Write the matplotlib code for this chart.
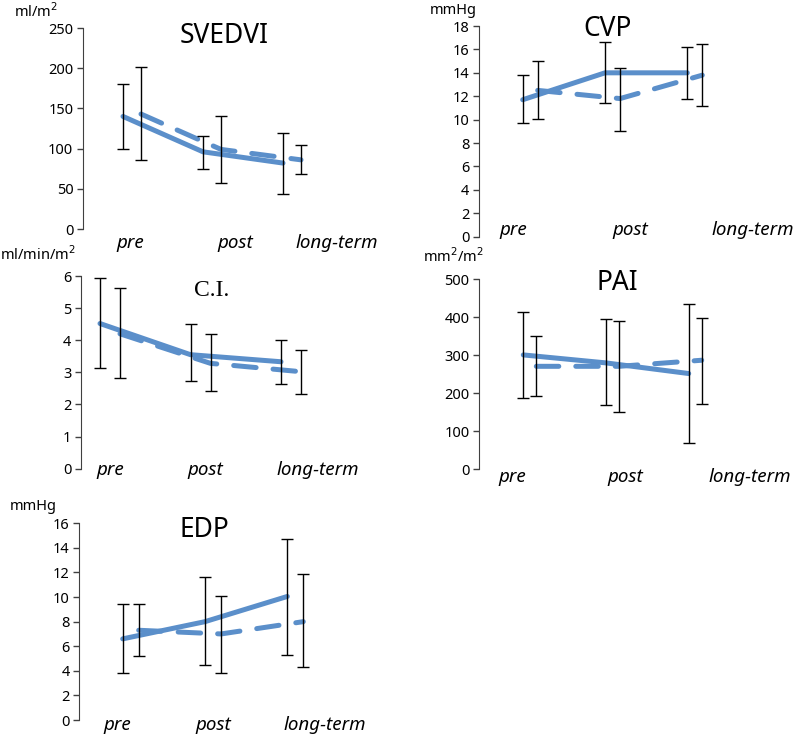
"""Five small line charts (pre / post / long-term) with SD error bars."""

import matplotlib

matplotlib.use("Agg")
import matplotlib.pyplot as plt
import numpy as np

W, H = 798, 740
BLUE = "#5b8fca"

plt.rcParams["font.family"] = ["Noto Sans", "DejaVu Sans"]

CATEGORIES = ["pre", "post", "long-term"]

# SVEDVI (ml/m2)
svedvi_a = [140, 96, 82]
svedvi_a_lo = [100, 75, 43]
svedvi_a_hi = [180, 116, 120]
svedvi_b = [143, 99, 86]
svedvi_b_lo = [86, 57, 68]
svedvi_b_hi = [201, 141, 104]

# CVP (mmHg)
cvp_a = [11.7, 14.0, 14.0]
cvp_a_lo = [9.7, 11.45, 11.8]
cvp_a_hi = [13.8, 16.6, 16.2]
cvp_b = [12.5, 11.8, 13.8]
cvp_b_lo = [10.05, 9.05, 11.15]
cvp_b_hi = [15.05, 14.45, 16.45]

# C.I. (ml/min/m2)
ci_a = [4.52, 3.55, 3.33]
ci_a_lo = [3.14, 2.72, 2.65]
ci_a_hi = [5.93, 4.52, 4.01]
ci_b = [4.2, 3.28, 3.02]
ci_b_lo = [2.82, 2.41, 2.34]
ci_b_hi = [5.63, 4.2, 3.7]

# PAI (mm2/m2)
pai_a = [301, 280, 252]
pai_a_lo = [187, 169, 70]
pai_a_hi = [415, 395, 435]
pai_b = [271, 271, 287]
pai_b_lo = [194, 151, 171]
pai_b_hi = [352, 389, 399]

# EDP (mmHg)
edp_a = [6.6, 8.0, 10.05]
edp_a_lo = [3.85, 4.45, 5.25]
edp_a_hi = [9.45, 11.6, 14.7]
edp_b = [7.3, 7.0, 8.0]
edp_b_lo = [5.2, 3.85, 4.35]
edp_b_hi = [9.45, 10.1, 11.85]


def px_axes(fig, left, top, bottom, width):
    return fig.add_axes([left / W, 1 - bottom / H, width / W, (bottom - top) / H])


def panel(fig, box, ylim, ystep, title, unit, labels_px,
          a, a_lo, a_hi, b, b_lo, b_hi):
    left, top, bottom, width, p0, step, off = box
    ax = px_axes(fig, left, top, bottom, width)
    ax.set_xlim((left - p0) / step, (left + width - p0) / step)
    ax.set_ylim(*ylim)
    ax.set_yticks(np.arange(ylim[0], ylim[1] + ystep / 2, ystep))
    ax.tick_params(axis="y", labelsize=10.5, length=4, width=1, color="#404040",
                   labelcolor="#000000", pad=3)
    ax.set_xticks([])
    for s in ("top", "right", "bottom"):
        ax.spines[s].set_visible(False)
    ax.spines["left"].set_color("#404040")
    ax.patch.set_alpha(0)

    x = np.arange(len(CATEGORIES))
    xb = x + off / step
    ax.plot(x, a, color=BLUE, lw=3.6, solid_capstyle="round",
            solid_joinstyle="round", zorder=2)
    ax.plot(xb, b, color=BLUE, lw=3.6, dashes=(4.5, 3.4), dash_capstyle="round",
            zorder=2)
    for xs, m, lo, hi in ((x, a, a_lo, a_hi), (xb, b, b_lo, b_hi)):
        m = np.asarray(m)
        yerr = [m - np.asarray(lo), np.asarray(hi) - m]
        ax.errorbar(xs, m, yerr=yerr, fmt="none", ecolor="#000000",
                    elinewidth=1.0, capsize=4.5, capthick=1.0, zorder=3)

    # titles and unit labels in pixel positions
    tx, ty, ttext = title
    if ttext == "C.I.":
        fig.text(tx / W, 1 - ty / H, ttext, fontsize=17,
                 family=["Liberation Serif", "DejaVu Serif"],
                 ha="center", va="center")
    else:
        fig.text(tx / W, 1 - ty / H, ttext, fontsize=19,
                 ha="center", va="center")
    ux, uy, utext = unit
    fig.text(ux / W, 1 - uy / H, utext, fontsize=10.5, ha="left", va="center")
    ly = labels_px[3]
    for cat, lx in zip(CATEGORIES, labels_px[:3]):
        fig.text(lx / W, 1 - ly / H, cat, fontsize=13.5, style="italic",
                 ha="center", va="center")
    return ax


fig = plt.figure(figsize=(W / 100, H / 100), dpi=100)

# box: axis left px, top px, bottom px, width px, first point px, step px, offset px
panel(fig, (83, 28, 229, 250, 123, 80, 18), (0, 250), 50,
      (224, 36, "SVEDVI"), (14, 12, "ml/m$^2$"), (130, 235, 337, 243),
      svedvi_a, svedvi_a_lo, svedvi_a_hi, svedvi_b, svedvi_b_lo, svedvi_b_hi)

panel(fig, (479, 26, 236.7, 260, 522.7, 82.3, 15), (0, 18), 2,
      (608, 29, "CVP"), (430, 10, "mmHg"), (513, 630, 753, 230),
      cvp_a, cvp_a_lo, cvp_a_hi, cvp_b, cvp_b_lo, cvp_b_hi)

panel(fig, (81, 276, 468.7, 250, 100, 90.5, 20), (0, 6), 1,
      (212, 291, "C.I."), (0, 255, "ml/min/m$^2$"), (110, 205, 318, 470),
      ci_a, ci_a_lo, ci_a_hi, ci_b, ci_b_lo, ci_b_hi)

panel(fig, (479.3, 279.3, 469.3, 260, 523.3, 82.7, 13), (0, 500), 100,
      (617, 283, "PAI"), (423, 257, "mm$^2$/m$^2$"), (512, 625, 750, 477),
      pai_a, pai_a_lo, pai_a_hi, pai_b, pai_b_lo, pai_b_hi)

panel(fig, (79.3, 523.3, 720, 250, 122.7, 82.3, 16), (0, 16), 2,
      (204, 530, "EDP"), (10, 507, "mmHg"), (117, 213, 325, 725),
      edp_a, edp_a_lo, edp_a_hi, edp_b, edp_b_lo, edp_b_hi)

fig.savefig("out.png", dpi=100)
